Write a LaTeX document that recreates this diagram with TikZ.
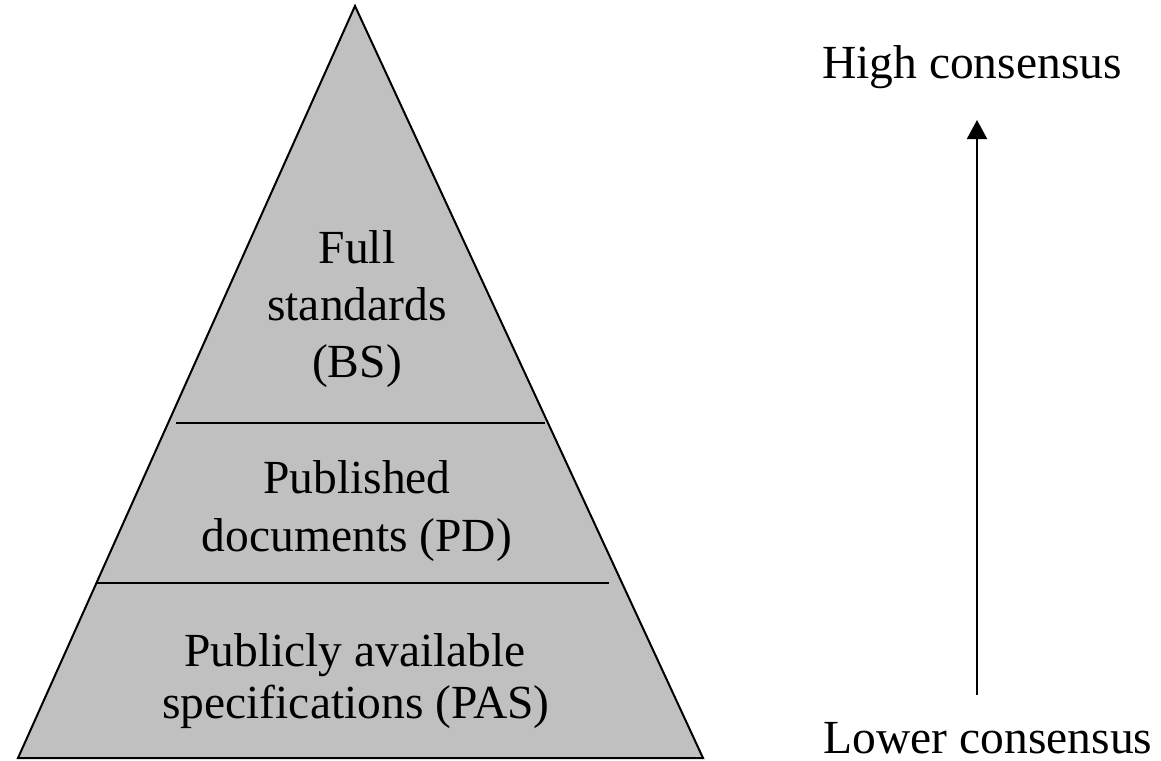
\documentclass[tikz,border=0pt]{standalone}
\usepackage{fontspec}
\setmainfont{Liberation Serif}
\usetikzlibrary{arrows.meta}
\definecolor{pyrgray}{RGB}{192,192,192}
\tikzset{
  lbl/.style={anchor=base,inner sep=0pt,font=\fontsize{47.5}{55}\selectfont},
  divider/.style={line width=2pt},
  outline/.style={draw=black,fill=pyrgray,line width=2pt,line join=miter},
}
\begin{document}
\begin{tikzpicture}[x=1pt,y=-1pt]
\useasboundingbox (0,0) rectangle (1161,760);
\coordinate (apex) at (355,6);
\coordinate (bl) at (18,758);
\coordinate (br) at (703,758);
\path[outline] (apex) -- (bl) -- (br) -- cycle;
\coordinate (d1l) at (176,423);
\coordinate (d1r) at (545,423);
\coordinate (d2l) at (96,583);
\coordinate (d2r) at (609,583);
\draw[divider] (d1l) -- (d1r);
\draw[divider] (d2l) -- (d2r);
\node[lbl] (full) at (357,263) {Full};
\node[lbl] (std) at (357,320) {standards};
\node[lbl] (bs) at (357,377) {(BS)};
\node[lbl] (pub) at (357,493) {Published};
\node[lbl] (pd) at (357,551) {documents (PD)};
\node[lbl] (pa) at (355,666) {Publicly available};
\node[lbl] (pas) at (356,718) {specifications (PAS)};
\node[lbl] (high) at (972,78) {High consensus};
\node[lbl] (low) at (988,753) {Lower consensus};
\coordinate (lo) at (977,695);
\coordinate (hi) at (977,120);
\draw[line width=2pt,-{Triangle[length=19pt,width=20pt]}] (lo) -- (hi);
\end{tikzpicture}
\end{document}
